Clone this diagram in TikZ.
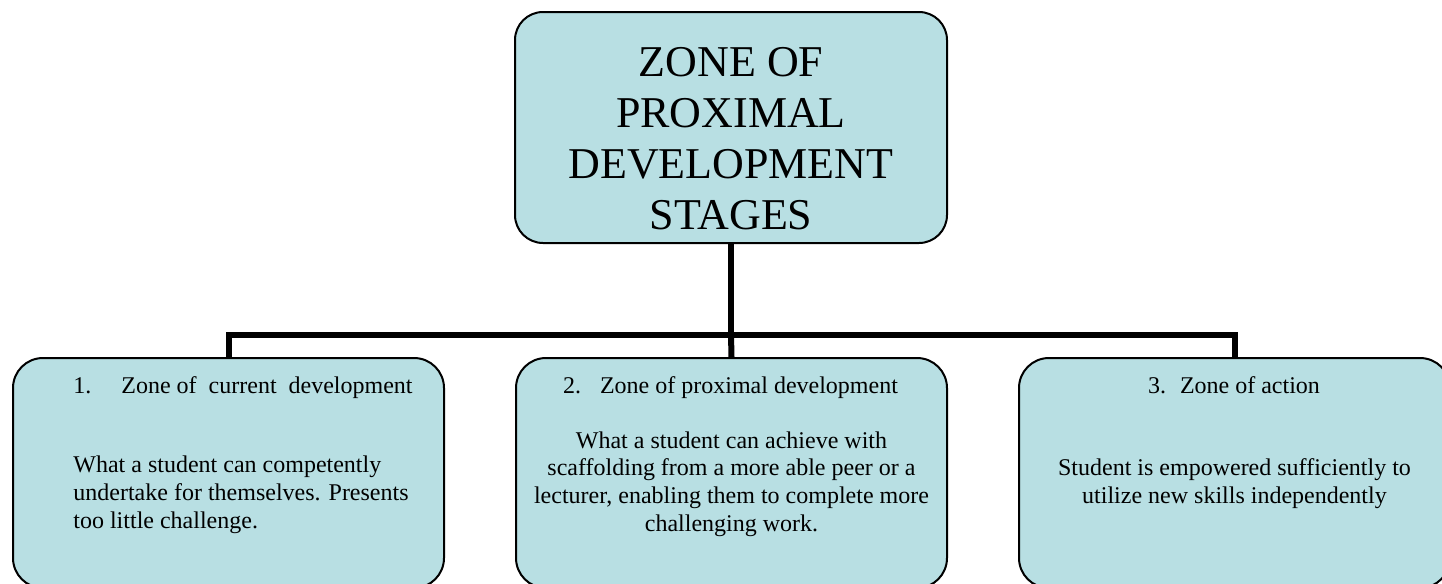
\documentclass[tikz,border=0pt]{standalone}
\usepackage{fontspec}
\setmainfont{Liberation Serif}
\usetikzlibrary{positioning}
\definecolor{zonefill}{RGB}{184,223,227}

\begin{document}
\begin{tikzpicture}[
  x=0.5pt, y=-0.5pt,
  zone/.style={draw, line width=1pt, fill=zonefill, rounded corners=15pt, minimum width=215.5pt, minimum height=115pt, inner sep=0pt},
  head/.style={font=\fontsize{12}{13.8}\selectfont, inner sep=0pt},
  body/.style={font=\fontsize{12}{13.8}\selectfont, inner sep=0pt, align=center},
  link/.style={line width=3pt},
]
\useasboundingbox (0,0) rectangle (1442,584);
% Top box
\node[zone, minimum width=216pt, minimum height=115.5pt, rounded corners=14pt] (zpd) at (731,127.5) {};
\node[font=\fontsize{22}{25.5}\selectfont, align=center, inner sep=0pt, anchor=base] (zpdtext) at (731,229) {ZONE OF\\PROXIMAL\\DEVELOPMENT\\STAGES};
% Three stages
\node[zone] (cur) at (228.5,473) {};
\node[zone] (prox) at (731.5,473) {};
\node[zone] (act) at (1234.5,473) {};
% Tree lines
\coordinate (hub) at ([yshift=-45.25pt]zpd.south);
\draw[link] (zpd.south) -- (hub);
\draw[link] (cur.north) |- (hub) -| (act.north);
\draw[link] (hub) -- (prox.north);
% Stage texts (base = last line)
\node[head, anchor=base west] (curhead) at (73,393) {1.\hspace{15pt}Zone of\ \ current\ \ development};
\node[body, align=left, anchor=base west] (curbody) at (73,528) {What a student can competently\\undertake for themselves. Presents\\too little challenge.};
\node[head, anchor=base] (proxhead) at (730.5,393) {2.\hspace{9.5pt}Zone of proximal development};
\node[body, anchor=base] (proxbody) at (731.5,531) {What a student can achieve with\\scaffolding from a more able peer or a\\lecturer, enabling them to complete more\\challenging work.};
\node[head, anchor=base] (acthead) at (1234,393) {3.\hspace{7pt}Zone of action};
\node[body, anchor=base] (actbody) at (1234.5,503) {Student is empowered sufficiently to\\utilize new skills independently};
\end{tikzpicture}
\end{document}
